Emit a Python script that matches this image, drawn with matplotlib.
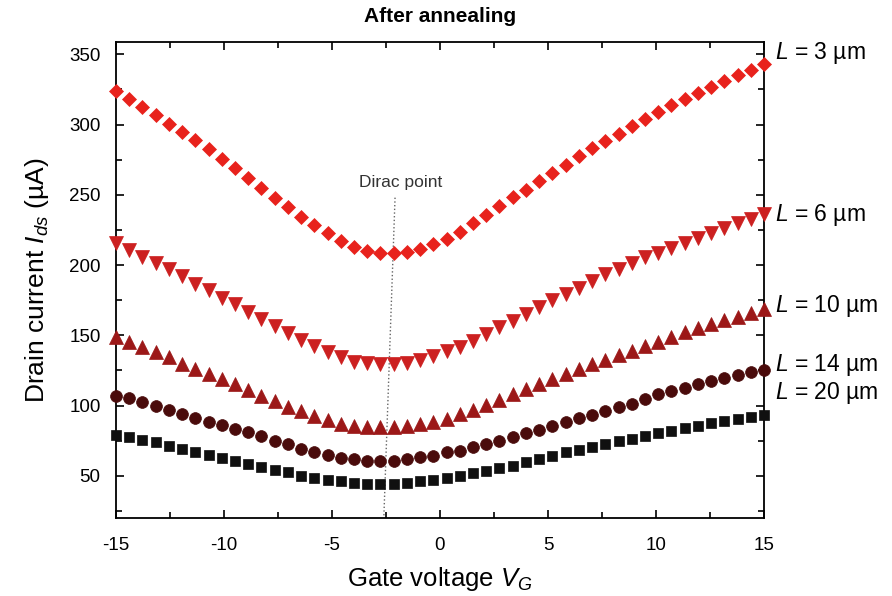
"""Drain current vs gate voltage after annealing, five channel lengths"""
import numpy as np
import matplotlib
matplotlib.use("Agg")
import matplotlib.pyplot as plt
from matplotlib.ticker import MultipleLocator

plt.rcParams['font.family'] = ['Liberation Sans', 'DejaVu Sans']
plt.rcParams['mathtext.fontset'] = 'custom'
plt.rcParams['mathtext.rm'] = 'Liberation Sans'
plt.rcParams['mathtext.it'] = 'Liberation Sans:italic'
plt.rcParams['axes.unicode_minus'] = False

# gate voltage sweep, 50 points from -15 V to 15 V
vg = np.linspace(-15, 15, 50)

# drain current (uA)
ids_3um = [323.8, 318.3, 312.6, 306.7, 300.7, 294.5, 288.8, 282.6, 275.7, 269.0,
           261.9, 255.2, 247.6, 241.2, 234.5, 228.6, 222.6, 217.4, 213.1, 210.2,
           208.8, 208.3, 209.5, 211.2, 215.0, 218.3, 223.8, 229.8, 235.7, 242.1,
           248.3, 253.6, 259.5, 265.5, 271.4, 277.4, 283.3, 288.1, 293.6, 299.3,
           304.3, 309.0, 313.6, 317.9, 322.6, 326.9, 331.0, 335.0, 338.8, 342.9]
ids_6um = [216.0, 210.7, 206.0, 201.7, 196.9, 192.1, 186.8, 182.1, 176.9, 172.0,
           166.7, 161.5, 156.4, 151.7, 146.9, 142.1, 138.1, 134.8, 131.3, 130.0,
           129.5, 129.5, 130.5, 132.5, 135.0, 138.5, 142.0, 146.3, 151.0, 155.8,
           160.5, 165.3, 170.4, 174.8, 179.5, 183.5, 189.0, 193.5, 197.5, 201.7,
           205.5, 208.8, 212.3, 216.0, 219.6, 223.0, 226.3, 229.8, 232.8, 236.4]
ids_10um = [148.8, 145.2, 141.7, 138.1, 134.5, 129.8, 126.2, 122.6, 119.0, 115.0,
            111.2, 107.1, 102.9, 99.3, 96.0, 92.9, 89.8, 86.9, 85.7, 84.5,
            84.5, 84.5, 85.7, 86.9, 88.1, 90.5, 94.0, 96.9, 100.7, 104.0,
            107.9, 111.9, 115.5, 119.0, 122.6, 126.2, 129.3, 132.6, 135.7, 138.8,
            142.1, 145.2, 148.8, 152.4, 155.5, 158.3, 160.7, 163.1, 166.0, 169.0]
ids_14um = [107.1, 105.5, 102.4, 100.0, 96.9, 94.0, 91.2, 88.1, 86.4, 83.3,
            81.0, 78.6, 75.0, 72.6, 69.0, 66.7, 65.0, 62.6, 61.9, 60.7,
            60.2, 60.7, 61.9, 63.1, 64.3, 66.7, 67.9, 70.2, 72.6, 75.0,
            77.4, 80.2, 82.6, 85.7, 88.1, 91.2, 93.6, 96.0, 98.8, 101.2,
            104.8, 107.9, 110.2, 112.6, 115.0, 117.4, 119.8, 121.4, 123.8, 125.5]
ids_20um = [79.3, 77.9, 75.5, 73.8, 71.4, 69.0, 66.7, 65.0, 62.6, 60.7,
            58.3, 56.0, 54.0, 52.4, 50.0, 48.3, 46.9, 46.0, 45.2, 44.5,
            44.0, 44.5, 45.0, 46.0, 46.9, 48.3, 50.0, 51.7, 53.6, 55.5,
            57.1, 59.5, 61.9, 64.3, 66.7, 68.3, 70.2, 72.6, 74.5, 76.2,
            78.6, 80.2, 82.1, 84.0, 85.7, 87.4, 88.8, 90.5, 92.1, 93.6]

labels = ["3", "6", "10", "14", "20"]
label_y = [351, 236, 171, 129, 109]

# dirac point guide (slightly slanted dotted line)
dirac_x = [-2.08, -2.6]
dirac_y = [248, 20]

series = [ids_3um, ids_6um, ids_10um, ids_14um, ids_20um]
markers = ['D', 'v', '^', 'o', 's']
sizes = [7.3, 10, 10, 8.5, 7]
colors = ['#e8221c', '#cc2020', '#9c1818', '#4a0b0b', '#101010']

fig = plt.figure(figsize=(8.92, 5.96), dpi=100)
ax = fig.add_axes([0.130, 0.131, 0.7265, 0.799])

ax.plot(dirac_x, dirac_y, ':', color='#666666', linewidth=1.0, zorder=1)
ax.text(-1.8, 259, "Dirac point", fontsize=12.5, ha='center', va='center', color='#333333')

for ids, mk, ms, c in zip(series, markers, sizes, colors):
    ax.plot(vg, ids, mk, markersize=ms, color=c, markeredgecolor=c,
            markeredgewidth=0.5, linestyle='none', zorder=3, clip_on=False)

for lab, y in zip(labels, label_y):
    ax.text(15.5, y, r"$L$ = " + lab + " \u00b5m", fontsize=16.5, va='center',
            ha='left', clip_on=False)

ax.set_xlim(-15, 15)
ax.set_ylim(20, 359)
ax.xaxis.set_major_locator(MultipleLocator(5))
ax.xaxis.set_minor_locator(MultipleLocator(2.5))
ax.yaxis.set_major_locator(MultipleLocator(50))
ax.yaxis.set_minor_locator(MultipleLocator(25))
ax.tick_params(which='both', direction='in', top=True, right=True, labelsize=13.5, width=1.2)
ax.tick_params(which='major', length=6)
ax.tick_params(which='minor', length=4)
ax.tick_params(axis='x', pad=14)
ax.tick_params(axis='y', pad=11)
for sp in ax.spines.values():
    sp.set_linewidth(1.3)

ax.set_xlabel(r"Gate voltage $V_G$", fontsize=18.5, labelpad=8)
ax.set_ylabel("Drain current $I_{ds}$ (\u00b5A)", fontsize=19, labelpad=13)
ax.set_title("After annealing", fontsize=15, fontweight='bold', pad=14)

plt.savefig("out.png", dpi=100)
